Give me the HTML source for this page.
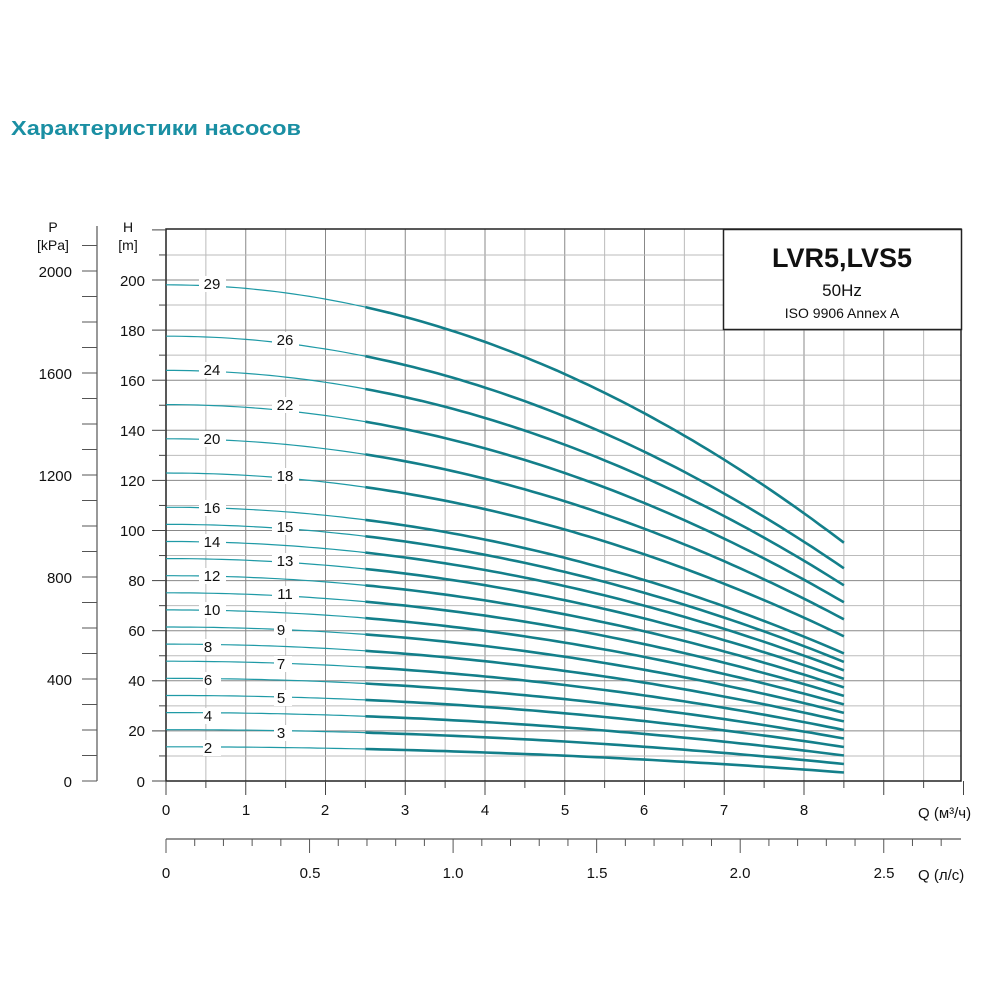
<!DOCTYPE html>
<html><head><meta charset="utf-8"><style>
html,body{margin:0;padding:0;background:#fff;width:1000px;height:1000px;overflow:hidden}
svg{display:block}
text{font-family:"Liberation Sans",Arial,sans-serif;fill:#111}
</style></head><body>
<svg id="s" width="1000" height="1000" viewBox="0 0 1000 1000" xmlns="http://www.w3.org/2000/svg">
<text x="11" y="135" font-size="20" font-weight="bold" style="fill:#1a8fa3" textLength="290" lengthAdjust="spacingAndGlyphs">Характеристики насосов</text>
<g id="grid"></g>
<g id="curves"></g>
<g id="labels" font-size="15" text-anchor="middle">
<rect x="199" y="276" width="27" height="16" fill="#fff"/><text x="212" y="289">29</text>
<rect x="199" y="362" width="27" height="16" fill="#fff"/><text x="212" y="375">24</text>
<rect x="199" y="431" width="27" height="16" fill="#fff"/><text x="212" y="444">20</text>
<rect x="199" y="500" width="27" height="16" fill="#fff"/><text x="212" y="513">16</text>
<rect x="199" y="534" width="27" height="16" fill="#fff"/><text x="212" y="547">14</text>
<rect x="199" y="568" width="27" height="16" fill="#fff"/><text x="212" y="581">12</text>
<rect x="199" y="602" width="27" height="16" fill="#fff"/><text x="212" y="615">10</text>
<rect x="203" y="639" width="18" height="16" fill="#fff"/><text x="208" y="652">8</text>
<rect x="203" y="672" width="18" height="16" fill="#fff"/><text x="208" y="685">6</text>
<rect x="203" y="708" width="18" height="16" fill="#fff"/><text x="208" y="721">4</text>
<rect x="203" y="740" width="18" height="16" fill="#fff"/><text x="208" y="753">2</text>
<rect x="272" y="332" width="27" height="16" fill="#fff"/><text x="285" y="345">26</text>
<rect x="272" y="397" width="27" height="16" fill="#fff"/><text x="285" y="410">22</text>
<rect x="272" y="468" width="27" height="16" fill="#fff"/><text x="285" y="481">18</text>
<rect x="272" y="519" width="27" height="16" fill="#fff"/><text x="285" y="532">15</text>
<rect x="272" y="553" width="27" height="16" fill="#fff"/><text x="285" y="566">13</text>
<rect x="272" y="586" width="27" height="16" fill="#fff"/><text x="285" y="599">11</text>
<rect x="274" y="622" width="18" height="16" fill="#fff"/><text x="281" y="635">9</text>
<rect x="274" y="656" width="18" height="16" fill="#fff"/><text x="281" y="669">7</text>
<rect x="274" y="690" width="18" height="16" fill="#fff"/><text x="281" y="703">5</text>
<rect x="274" y="725" width="18" height="16" fill="#fff"/><text x="281" y="738">3</text>
</g>
<rect x="723.5" y="229.5" width="238" height="100" fill="#fff" stroke="#222" stroke-width="1.5"/>
<text x="842" y="267" font-size="27" font-weight="bold" text-anchor="middle">LVR5,LVS5</text>
<text x="842" y="296" font-size="17" text-anchor="middle">50Hz</text>
<text x="842" y="318" font-size="14" text-anchor="middle">ISO 9906 Annex A</text>
<g font-size="14" text-anchor="middle">
<text x="53" y="232">P</text><text x="53" y="250">[kPa]</text>
<text x="128" y="232">H</text><text x="128" y="250">[m]</text>
</g>
<g font-size="15" text-anchor="end">
<text x="72" y="277">2000</text><text x="72" y="379">1600</text><text x="72" y="481">1200</text>
<text x="72" y="583">800</text><text x="72" y="685">400</text><text x="72" y="787">0</text>
<text x="145" y="286">200</text><text x="145" y="336">180</text><text x="145" y="386">160</text>
<text x="145" y="436">140</text><text x="145" y="486">120</text><text x="145" y="536">100</text>
<text x="145" y="586">80</text><text x="145" y="636">60</text><text x="145" y="686">40</text>
<text x="145" y="736">20</text><text x="145" y="787">0</text>
</g>
<g font-size="15" text-anchor="middle">
<text x="166" y="815">0</text><text x="246" y="815">1</text><text x="325" y="815">2</text>
<text x="405" y="815">3</text><text x="485" y="815">4</text><text x="565" y="815">5</text>
<text x="644" y="815">6</text><text x="724" y="815">7</text><text x="804" y="815">8</text>
<text x="166" y="878">0</text><text x="310" y="878">0.5</text><text x="453" y="878">1.0</text>
<text x="597" y="878">1.5</text><text x="740" y="878">2.0</text><text x="884" y="878">2.5</text>
</g>
<text x="918" y="818" font-size="15">Q (м³/ч)</text>
<text x="918" y="880" font-size="15">Q (л/с)</text>
</svg>
<script>
var ns="http://www.w3.org/2000/svg";
function el(p,t,a){var e=document.createElementNS(ns,t);for(var k in a)e.setAttribute(k,a[k]);document.getElementById(p).appendChild(e);return e;}
function X(q){return 166+q*79.75;}
function Y(h){return 781-h*2.505;}
var L=166,R=961,T=229,B=781;
for(var i=1;i<20;i++){var x=X(i*0.5);el("grid","line",{x1:x,y1:T,x2:x,y2:B,stroke:i%2?"#bbb":"#888","stroke-width":1});}
for(var h=10;h<220;h+=10){var y=Y(h);el("grid","line",{x1:L,y1:y,x2:R,y2:y,stroke:h%20?"#bbb":"#888","stroke-width":1});}
el("grid","rect",{x:L,y:T,width:R-L,height:B-T,fill:"none",stroke:"#222","stroke-width":1.5});
for(var h=0;h<=220;h+=10){var y=Y(h);el("grid","line",{x1:h%20?159:152,y1:y,x2:L,y2:y,stroke:"#444","stroke-width":1});}
el("grid","line",{x1:97,y1:226,x2:97,y2:781,stroke:"#555","stroke-width":1.2});
for(var p=0;p<=2100;p+=100){var y=781-p*0.255;el("grid","line",{x1:82,y1:y,x2:97,y2:y,stroke:"#555","stroke-width":1});}
for(var i=0;i<=20;i++){var x=X(i*0.5);el("grid","line",{x1:x,y1:B,x2:x,y2:i%2?788:795,stroke:"#444","stroke-width":1});}
el("grid","line",{x1:166,y1:839,x2:961,y2:839,stroke:"#555","stroke-width":1.2});
for(var i=0;i<=27;i++){var x=166+i*28.71;if(x>962)break;el("grid","line",{x1:x,y1:839,x2:x,y2:i%5?846:853,stroke:"#555","stroke-width":1});}
var st=[2,3,4,5,6,7,8,9,10,11,12,13,14,15,16,18,20,22,24,26,29];
st.forEach(function(n){
 function P(q0,q1){var d="";for(var q=q0;q<=q1+1e-9;q+=0.1){var r=q/8.5;var h=n*(6.83-0.0483*q*q)-3.4*r*r*(1-n/60);d+=(d?"L":"M")+X(q).toFixed(1)+" "+Y(h).toFixed(1);}return d;}
 el("curves","path",{d:P(0,2.5),fill:"none",stroke:"#1f9aa6","stroke-width":1.2});
 el("curves","path",{d:P(2.5,8.5),fill:"none",stroke:"#137f8a","stroke-width":2.6});
});
</script>
</body></html>
